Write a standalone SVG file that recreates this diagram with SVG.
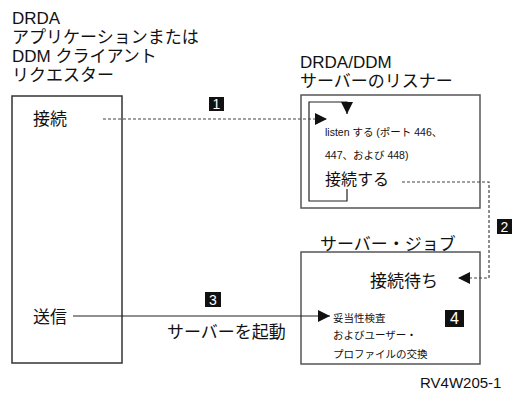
<svg xmlns="http://www.w3.org/2000/svg" width="516" height="396" viewBox="0 0 516 396">
<style>
text{font-family:"Liberation Sans","Noto Sans CJK JP",sans-serif;fill:#111}
.t17{font-size:17px}
.t16{font-size:16px}
.t11{font-size:10.5px}
.box{fill:none;stroke:#555;stroke-width:1.5}
.dash{fill:none;stroke:#444;stroke-width:1.2;stroke-dasharray:3 2}
.solid{fill:none;stroke:#222;stroke-width:1.2}
.lbl{fill:#111}
.lt{fill:#fff;font-size:14px;text-anchor:middle}
</style>
<defs>
<marker id="ah" viewBox="0 0 10 10" refX="10" refY="5" markerWidth="12" markerHeight="12" markerUnits="userSpaceOnUse" orient="auto">
<path d="M0,0 L10,5 L0,10 z" fill="#111"/>
</marker>
</defs>
<g id="requester">
<text class="t17" x="12" y="24">DRDA</text>
<text class="t17" x="12" y="43">アプリケーションまたは</text>
<text class="t17" x="12" y="62">DDM クライアント</text>
<text class="t17" x="12" y="81">リクエスター</text>
<rect class="box" x="12" y="96" width="110" height="267" style="stroke:#333"/>
<text class="t17" x="33" y="125">接続</text>
<text class="t17" x="33" y="323">送信</text>
</g>
<g id="listener">
<text class="t17" x="300" y="68">DRDA/DDM</text>
<text class="t17" x="300" y="87">サーバーのリスナー</text>
<rect class="box" x="301" y="95" width="179" height="113"/>
<path class="solid" d="M347,189 V201 H309 V102 H347 V114" marker-end="url(#ah)"/>
<text class="t11" x="325" y="136">listen する (ポート 446、</text>
<text class="t11" x="325" y="159">447、および 448)</text>
<text class="t16" x="325" y="185">接続する</text>
</g>
<g id="serverjob">
<text class="t17" x="320" y="250">サーバー・ジョブ</text>
<rect class="box" x="301" y="252" width="179" height="112"/>
<text class="t17" x="370" y="287">接続待ち</text>
<text class="t11" x="333" y="322">妥当性検査</text>
<text class="t11" x="333" y="339">およびユーザー・</text>
<text class="t11" x="333" y="358">プロファイルの交換</text>
</g>
<g id="connectors">
<path class="dash" d="M103,119 H327" marker-end="url(#ah)"/>
<path class="dash" d="M402,182 H489 V278 H458" marker-end="url(#ah)"/>
<path class="solid" d="M73,316 H330" marker-end="url(#ah)"/>
<text class="t17" x="167" y="338">サーバーを起動</text>
</g>
<g id="labels">
<rect class="lbl" x="209" y="97" width="15" height="14"/>
<text class="lt" x="216.5" y="109">1</text>
<rect class="lbl" x="497" y="219" width="15" height="15"/>
<text class="lt" x="504.5" y="232">2</text>
<rect class="lbl" x="205" y="292" width="16" height="15"/>
<text class="lt" x="213" y="305">3</text>
<rect class="lbl" x="445" y="310" width="19" height="17"/>
<text class="lt" x="454.5" y="324" style="font-size:16px">4</text>
</g>
<text x="420" y="388" style="font-size:15px">RV4W205-1</text>
</svg>
